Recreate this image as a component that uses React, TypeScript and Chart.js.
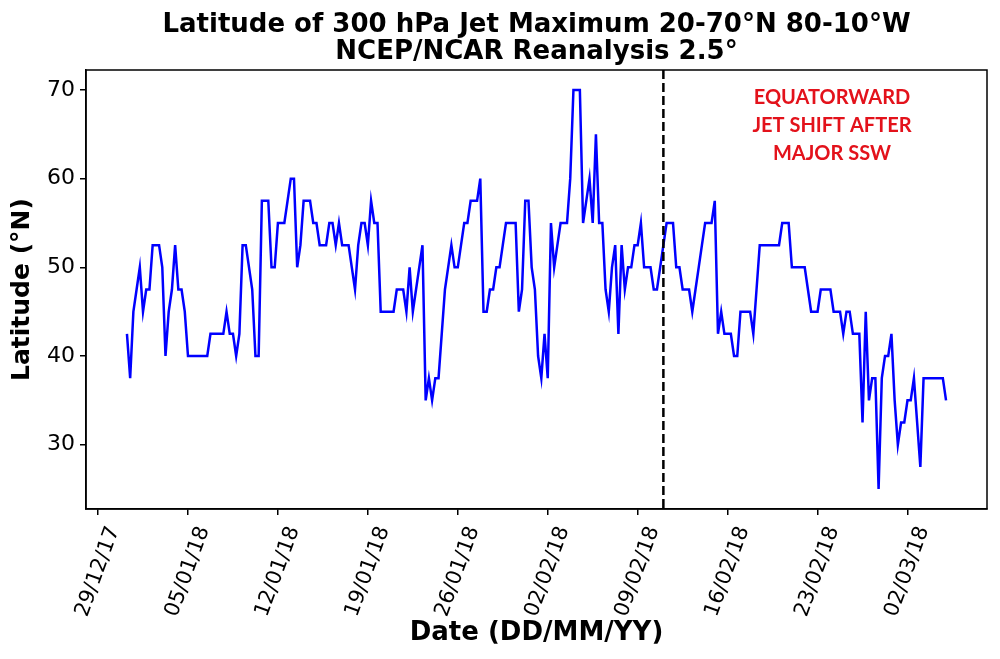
import React, { useEffect, useRef } from 'react';
import { Chart, registerables } from 'chart.js';

Chart.register(...registerables);

const TITLE_LINES = ['Latitude of 300 hPa Jet Maximum 20-70°N 80-10°W', 'NCEP/NCAR Reanalysis 2.5°'];
const X_LABEL = 'Date (DD/MM/YY)';
const Y_LABEL = 'Latitude (°N)';
const ANNOTATION_LINES = ['EQUATORWARD', 'JET SHIFT AFTER', 'MAJOR SSW'];

// x axis in days since 29/12/17 00Z
const X_TICK_DAYS = [0, 7, 14, 21, 28, 35, 42, 49, 56, 63];
const X_TICK_LABELS = ['29/12/17', '05/01/18', '12/01/18', '19/01/18', '26/01/18', '02/02/18', '09/02/18', '16/02/18', '23/02/18', '02/03/18'];
const Y_TICKS = [30, 40, 50, 60, 70];

const START_DAY = 2.25; // 31/12/17 06Z
const STEP_DAYS = 0.25; // 6-hourly analyses
const SSW_DAY = 44; // 11/02/18 00Z

// Latitude (°N) of the 300 hPa jet maximum, 6-hourly
const LATITUDE = [
  42.5, 37.5, 45, 47.5, 50, 45, 47.5, 47.5, 52.5, 52.5,
  52.5, 50, 40, 45, 47.5, 52.5, 47.5, 47.5, 45, 40,
  40, 40, 40, 40, 40, 40, 42.5, 42.5, 42.5, 42.5,
  42.5, 45, 42.5, 42.5, 40, 42.5, 52.5, 52.5, 50, 47.5,
  40, 40, 57.5, 57.5, 57.5, 50, 50, 55, 55, 55,
  57.5, 60, 60, 50, 52.5, 57.5, 57.5, 57.5, 55, 55,
  52.5, 52.5, 52.5, 55, 55, 52.5, 55, 52.5, 52.5, 52.5,
  50, 47.5, 52.5, 55, 55, 52.5, 57.5, 55, 55, 45,
  45, 45, 45, 45, 47.5, 47.5, 47.5, 45, 50, 45,
  47.5, 50, 52.5, 35, 37.5, 35, 37.5, 37.5, 42.5, 47.5,
  50, 52.5, 50, 50, 52.5, 55, 55, 57.5, 57.5, 57.5,
  60, 45, 45, 47.5, 47.5, 50, 50, 52.5, 55, 55,
  55, 55, 45, 47.5, 57.5, 57.5, 50, 47.5, 40, 37.5,
  42.5, 37.5, 55, 50, 52.5, 55, 55, 55, 60, 70,
  70, 70, 55, 57.5, 60, 55, 65, 55, 55, 47.5,
  45, 50, 52.5, 42.5, 52.5, 47.5, 50, 50, 52.5, 52.5,
  55, 50, 50, 50, 47.5, 47.5, 50, 52.5, 55, 55,
  55, 50, 50, 47.5, 47.5, 47.5, 45, 47.5, 50, 52.5,
  55, 55, 55, 57.5, 42.5, 45, 42.5, 42.5, 42.5, 40,
  40, 45, 45, 45, 45, 42.5, 47.5, 52.5, 52.5, 52.5,
  52.5, 52.5, 52.5, 52.5, 55, 55, 55, 50, 50, 50,
  50, 50, 47.5, 45, 45, 45, 47.5, 47.5, 47.5, 47.5,
  45, 45, 45, 42.5, 45, 45, 42.5, 42.5, 42.5, 32.5,
  45, 35, 37.5, 37.5, 25, 37.5, 40, 40, 42.5, 35,
  30, 32.5, 32.5, 35, 35, 37.5, 32.5, 27.5, 37.5, 37.5,
  37.5, 37.5, 37.5, 37.5, 37.5, 35,
];

const W = 1000;
const H = 659;

const overlayPlugin = {
  id: 'overlay',
  afterDatasetsDraw(chart: any) {
    const { ctx, chartArea, scales } = chart;
    const x = scales.x.getPixelForValue(SSW_DAY);
    ctx.save();
    ctx.strokeStyle = '#000';
    ctx.lineWidth = 2.5;
    ctx.setLineDash([9, 4]);
    ctx.beginPath();
    ctx.moveTo(x, chartArea.top);
    ctx.lineTo(x, chartArea.bottom);
    ctx.stroke();
    ctx.restore();
  },
  afterDraw(chart: any) {
    const { ctx, chartArea } = chart;
    ctx.save();
    ctx.strokeStyle = '#000';
    ctx.lineWidth = 1.5;
    ctx.setLineDash([]);
    ctx.strokeRect(chartArea.left, chartArea.top, chartArea.right - chartArea.left, chartArea.bottom - chartArea.top);

    const cx = (chartArea.left + chartArea.right) / 2;
    ctx.fillStyle = '#000';
    ctx.textAlign = 'center';
    ctx.textBaseline = 'alphabetic';
    ctx.font = 'bold 26px "DejaVu Sans"';
    ctx.fillText(TITLE_LINES[0], cx, 32);
    ctx.fillText(TITLE_LINES[1], cx, 59);

    ctx.fillStyle = '#e3121b';
    ctx.font = 'bold 20px Lato';
    const baseY = [104, 132, 160];
    ANNOTATION_LINES.forEach((t, i) => ctx.fillText(t, 832, baseY[i]));
    ctx.restore();
  },
};

export default function App() {
  const canvasRef = useRef<HTMLCanvasElement | null>(null);

  useEffect(() => {
    const canvas = canvasRef.current;
    if (!canvas) return;
    const points = LATITUDE.map((v, i) => ({ x: START_DAY + i * STEP_DAYS, y: v }));
    const xFirst = points[0].x;
    const xLast = points[points.length - 1].x;
    const xSpan = xLast - xFirst;
    const yMin = Math.min(...LATITUDE);
    const yMax = Math.max(...LATITUDE);
    const ySpan = yMax - yMin;

    const chart = new Chart(canvas, {
      type: 'line',
      data: {
        datasets: [
          {
            data: points,
            borderColor: '#0000ff',
            borderWidth: 2.5,
            pointRadius: 0,
            tension: 0,
            fill: false,
          },
        ],
      },
      options: {
        animation: false,
        responsive: false,
        maintainAspectRatio: false,
        devicePixelRatio: 1,
        layout: { padding: { left: 0, right: 13, top: 70, bottom: 0 } },
        plugins: {
          legend: { display: false },
          tooltip: { enabled: false },
          title: { display: false },
        },
        scales: {
          x: {
            type: 'linear',
            min: xFirst - 0.05 * xSpan,
            max: xLast + 0.05 * xSpan,
            afterBuildTicks: (s: any) => {
              s.ticks = X_TICK_DAYS.map((v) => ({ value: v }));
            },
            afterFit: (s: any) => {
              s.height = H - 509;
              s.paddingLeft = 0;
              s.paddingRight = 0;
            },
            ticks: {
              autoSkip: false,
              minRotation: 70,
              maxRotation: 70,
              padding: 8,
              labelOffset: 16,
              color: '#000',
              font: { family: 'DejaVu Sans', size: 21 },
              callback: (v: any) => X_TICK_LABELS[X_TICK_DAYS.indexOf(Number(v))],
            },
            grid: { drawOnChartArea: false, drawTicks: true, tickLength: 6, color: '#000', lineWidth: 1.5 },
            border: { display: true, color: '#000', width: 1.5 },
            title: {
              display: true,
              text: X_LABEL,
              color: '#000',
              font: { family: 'DejaVu Sans', size: 26, weight: 'bold' },
              padding: { top: 0, bottom: 10 },
            },
          },
          y: {
            type: 'linear',
            min: yMin - 0.05 * ySpan,
            max: yMax + 0.05 * ySpan,
            afterBuildTicks: (s: any) => {
              s.ticks = Y_TICKS.map((v) => ({ value: v }));
            },
            afterFit: (s: any) => {
              s.width = 86;
              s.paddingTop = 0;
              s.paddingBottom = 0;
            },
            ticks: {
              padding: 5,
              color: '#000',
              font: { family: 'DejaVu Sans', size: 22 },
              callback: (v: any) => String(v),
            },
            grid: { drawOnChartArea: false, drawTicks: true, tickLength: 6, color: '#000', lineWidth: 1.5 },
            border: { display: true, color: '#000', width: 1.5 },
            title: {
              display: true,
              text: Y_LABEL,
              color: '#000',
              font: { family: 'DejaVu Sans', size: 25, weight: 'bold' },
              padding: { top: 7, bottom: 0 },
            },
          },
        },
      } as any,
      plugins: [overlayPlugin],
    });
    return () => chart.destroy();
  }, []);

  return (
    <div style={{ position: 'absolute', left: 0, top: 0, width: W, height: H, background: '#fff' }}>
      <canvas ref={canvasRef} width={W} height={H} style={{ width: W, height: H, display: 'block' }} />
    </div>
  );
}
